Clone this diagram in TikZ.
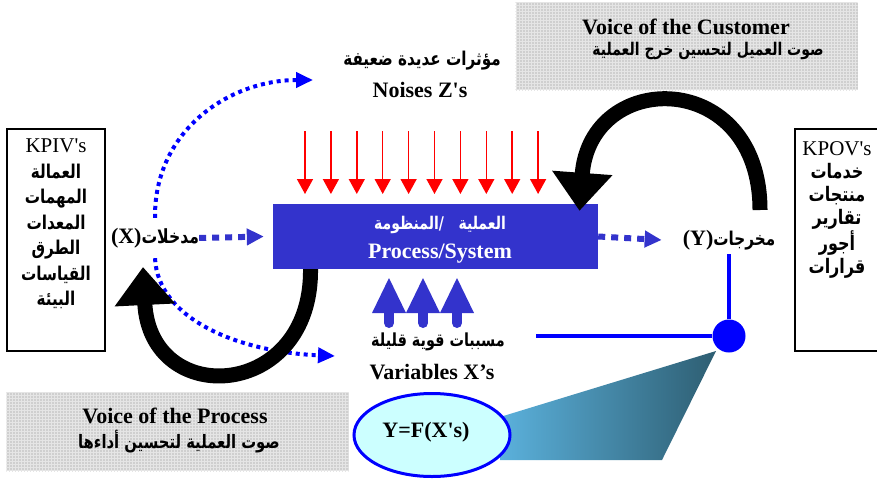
\documentclass[tikz,border=0pt]{standalone}
\usepackage{fontspec}
\newfontfamily\latinfont{Liberation Serif}
\newfontfamily\arabicfont[Script=Arabic,FakeStretch=0.8]{DejaVu Sans}
\TeXXeTstate=1
\usetikzlibrary{arrows.meta,positioning,shapes.geometric,patterns}

\definecolor{procblue}{HTML}{3333CC}
\definecolor{pureblue}{HTML}{0000FF}
\definecolor{modelfill}{HTML}{CCFFFF}
\definecolor{panelgray}{HTML}{CFCFCF}
\definecolor{funnellight}{HTML}{5BB1DC}
\definecolor{funneldark}{HTML}{2E5E72}
% bold arabic at a given size
\newcommand{\arfont}[1]{\arabicfont\bfseries\fontsize{#1}{#1}\selectfont}

\begin{document}
\begin{tikzpicture}[x=1pt,y=-1pt]
\useasboundingbox (0,0) rectangle (877,479);
\tikzstyle{panel}=[fill=panelgray, minimum width=342pt, inner sep=0pt]
\tikzstyle{listbox}=[draw, line width=1.6pt, minimum width=98pt, minimum height=222pt]
\tikzstyle{flowarrow}=[procblue, line width=6pt, dash pattern=on 7pt off 6pt, -{Triangle[width=16pt,length=17pt]}]
\tikzstyle{dotarrow}=[pureblue, line width=4pt, dash pattern=on 4pt off 4pt, -{Triangle[width=15pt,length=17pt]}]
\tikzstyle{feedback}=[line width=15pt, -{Triangle[width=58pt,length=38pt]}]
\tikzstyle{noisearrow}=[red, line width=1.5pt, -{Triangle[width=16pt,length=15pt]}]
\tikzstyle{hubline}=[pureblue, line width=4.5pt]
\tikzstyle{every node}=[align=center, inner sep=0pt, font=\latinfont\bfseries\fontsize{22}{29}\selectfont]

% voice of the customer / voice of the process
\node[panel, minimum height=87pt] (voc) at (686.5,46.5) {};
\fill[pattern=grid, pattern color=white!45!panelgray] (voc.north west) rectangle (voc.south east);
\node (voctitle) at (686,27) {Voice of the Customer};
\node (vocsub) at (708,51) {\arfont{17.5}\beginR صوت العميل لتحسين خرج العملية\endR};
\node[panel, minimum height=78pt] (vop) at (177.5,432) {};
\fill[pattern=grid, pattern color=white!45!panelgray] (vop.north west) rectangle (vop.south east);
\node (voptitle) at (175,416) {Voice of the Process};
\node (vopsub) at (179,442) {\arfont{18.5}\beginR صوت العملية لتحسين أداءها\endR};

% inputs and outputs
\node[listbox] (kpiv) at (56,240) {};
\node[font=\latinfont\fontsize{21}{25.5}\selectfont] (kpivlist) at (56,224)
  {KPIV's\\{\arfont{19}\beginR العمالة\endR}\\{\arfont{19}\beginR المهمات\endR}\\{\arfont{19}\beginR المعدات\endR}\\
   {\arfont{19}\beginR الطرق\endR}\\{\arfont{19}\beginR القياسات\endR}\\{\arfont{19}\beginR البيئة\endR}};
\draw[line width=1.6pt] (877,129) -| (795,351) -- (877,351);
\node[font=\latinfont\fontsize{21}{23}\selectfont] (kpovlist) at (837,210)
  {KPOV's\\{\arfont{20}\beginR خدمات\endR}\\{\arfont{20}\beginR منتجات\endR}\\{\arfont{20}\beginR تقارير\endR}\\
   {\arfont{20}\beginR أجور\endR}\\{\arfont{20}\beginR قرارات\endR}};

\node (xin) at (155,238) {(X){\arfont{19.5}\beginR مدخلات\endR}};
\node (yout) at (729,240) {(Y){\arfont{19}\beginR مخرجات\endR}};

% the process
\node[fill=procblue, minimum width=325pt, minimum height=65pt] (process) at (435.5,236.5) {};
\node[text=white] (proctext) at (440,240)
  {{\arfont{17.5}\beginR العملية\ \ \ /المنظومة\endR}\\Process/System};
\draw[flowarrow] (xin.east) -- ([xshift=-9pt]process.west);
\draw[flowarrow] (process.east) -- ([xshift=-21pt]yout.west);

% noises from above, variables from below
\node (noisesub) at (422,61) {\arfont{19}\beginR مؤثرات عديدة ضعيفة\endR};
\node (noise) at (420,90) {Noises Z's};
\foreach \x in {0,...,9}
  \draw[noisearrow] (305+25.9*\x,131) -- (305+25.9*\x,194);
\node (varsub) at (438,342) {\arfont{18}\beginR مسببات قوية قليلة\endR};
\node (var) at (432,372) {Variables X’s};
\foreach \x in {389,423,457} {
  \draw[procblue, line width=10pt, line cap=round] (\x,323) -- (\x,308);
  \fill[procblue] (\x-17,313) -- (\x+17,313) -- (\x,278) -- cycle;
}

% dotted links around the inputs
\coordinate (noisetip) at (313,80);
\coordinate (vartip) at (335,356);
\draw[dotarrow] ([yshift=10pt]xin.north) .. controls (154,130) and (230,80) .. (noisetip);
\draw[dotarrow] ([yshift=-10pt]xin.south) .. controls (158,320) and (240,352) .. (vartip);

% feedback loops
\coordinate (fbin) at (143,267);
\coordinate (fbout) at (760,210);
\draw[feedback] ([xshift=-125pt]process.south) .. controls (312,400) and (150,410) .. (fbin);
\draw[feedback] (fbout) .. controls (760,68) and (590,68) .. ([xshift=144pt,yshift=-7pt]process.north);

% transfer function
\shade[left color=funnellight, right color=funneldark] (500,417) -- (716,351) -- (662,460) -- (500,460) -- cycle;
\node[ellipse, draw=pureblue, line width=3pt, fill=modelfill, minimum width=156pt, minimum height=83pt] (model) at (432,435) {};
\node (modeltext) at (426,432) {Y=F(X's)};
\node[circle, fill=pureblue, minimum size=33pt] (hub) at (729,336) {};
\coordinate (hubstart) at (536,336);
\draw[hubline] (hubstart) -- (hub);
\draw[hubline] (hub) -- ([yshift=-4pt]yout.south);
\end{tikzpicture}
\end{document}
